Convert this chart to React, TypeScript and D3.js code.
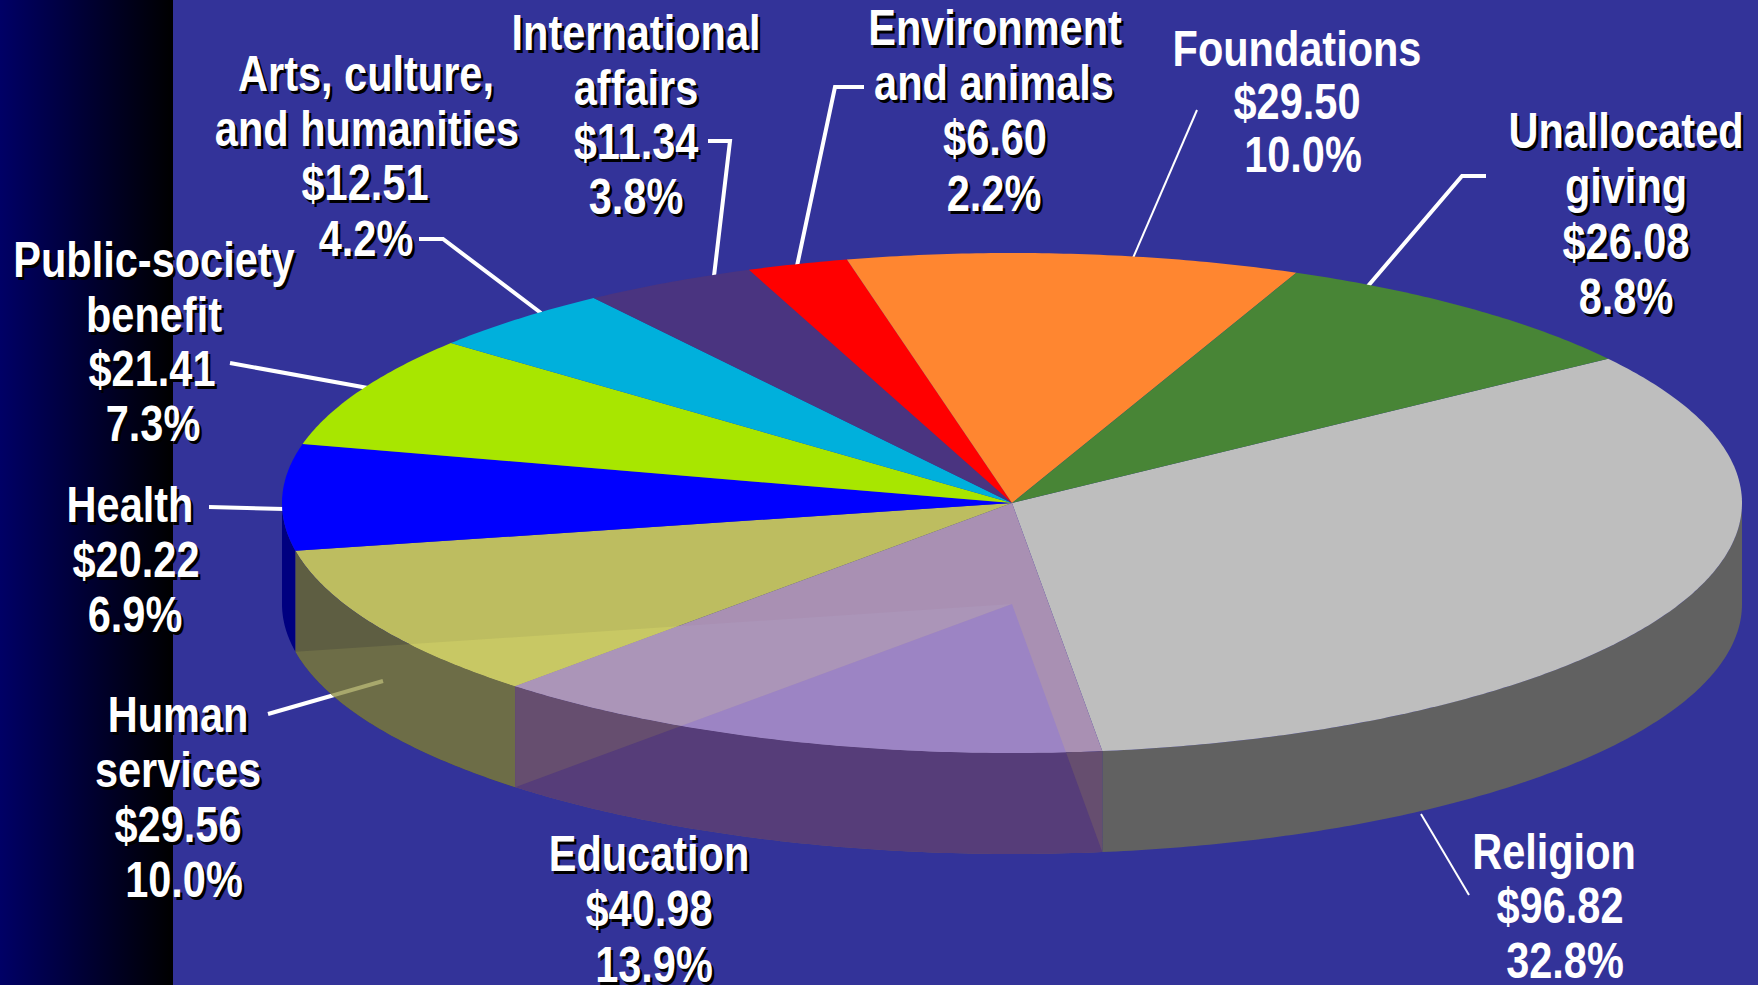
import React from "react";
import * as d3 from "d3";

// ---- data ----
const categories = ["Religion","Education","Human services","Health","Public-society benefit","Arts, culture, and humanities","International affairs","Environment and animals","Foundations","Unallocated giving"];
const amounts = [96.82,40.98,29.56,20.22,21.41,12.51,11.34,6.60,29.50,26.08];
const percents = ["32.8%","13.9%","10.0%","6.9%","7.3%","4.2%","3.8%","2.2%","10.0%","8.8%"];
const nameLines = [["Religion"],["Education"],["Human","services"],["Health"],["Public-society","benefit"],["Arts, culture,","and humanities"],["International","affairs"],["Environment","and animals"],["Foundations"],["Unallocated","giving"]];
const topColors = ["#BEBEBE","#A990B3","#BDBD60","#0000FF","#A8E600","#00B0DC","#4A3480","#FF0000","#FF8630","#488536"];
const wallColors: Record<string,string> = { "Religion":"#616161", "Health":"#000080" };
const shadowed = [false,true,true,true,true,true,true,true,false,true];

// label layout: [centre x of each line], [baseline of each line]
const labelX = [[1554,1560,1565],[649,649,654],[178,178,178,184],[130,136,135],[154,154,152,153],[366,367,365,366],[636,636,636,636],[995,994,995,994],[1297,1297,1303],[1626,1626,1626,1626]];
const labelY = [[869,923,978],[871,926,982],[732,787,842,897],[522,577,632],[277,332,386,441],[91,146,200,256],[50,105,159,214],[45,100,155,211],[66,119,172],[148,203,259,314]];
// leader lines
const leaders: {pts:[number,number][],w:number}[] = [
  {pts:[[1421,814],[1469,895]],w:2},
  {pts:[[268,714],[383,681]],w:4},
  {pts:[[209,507],[284,509]],w:4},
  {pts:[[230,363],[368,388]],w:4},
  {pts:[[419,239],[443,239],[541,313]],w:4},
  {pts:[[708,141],[730,141],[714,276]],w:4},
  {pts:[[864,87],[835,87],[797,266]],w:4},
  {pts:[[1197,110],[1133,258]],w:2},
  {pts:[[1486,176],[1462,176],[1368,286]],w:4},
];

const W = 1758, H = 985;
const CX = 1012, CY = 503, RX = 730, RY = 250, DEPTH = 101;
const START = (54.75 * Math.PI) / 180;

const px = (a: number) => CX + RX * Math.sin(a);
const py = (a: number, dy = 0) => CY + dy - RY * Math.cos(a);

const arcs = d3.pie<number>().value(d => d).sort(null).startAngle(START).endAngle(START + 2 * Math.PI)(amounts);

const samples = (a0: number, a1: number) => {
  const n = Math.max(2, Math.ceil((a1 - a0) / 0.01));
  return d3.range(n + 1).map(i => a0 + ((a1 - a0) * i) / n);
};
const sector = (a0: number, a1: number, dy = 0) =>
  d3.line<[number,number]>()(
    [[CX, CY + dy] as [number,number]].concat(samples(a0, a1).map(a => [px(a), py(a, dy)] as [number,number]))
  ) + "Z";
const wall = (a0: number, a1: number) => {
  const lo = Math.max(a0, Math.PI / 2), hi = Math.min(a1, (3 * Math.PI) / 2);
  if (hi <= lo) return "";
  return d3.area<number>().x(px).y0(a => py(a)).y1(a => py(a, DEPTH))(samples(lo, hi)) + "Z";
};
const leaderPath = d3.line<[number,number]>();

const idx = (n: string) => categories.indexOf(n);
const edu = arcs[idx("Education")], hum = arcs[idx("Human services")];
const topEdu = sector(edu.startAngle, edu.endAngle);
const topHum = sector(hum.startAngle, hum.endAngle);
const botEdu = sector(edu.startAngle, edu.endAngle, DEPTH);
const botHum = sector(hum.startAngle, hum.endAngle, DEPTH);
const wallEdu = wall(edu.startAngle, edu.endAngle);
const wallHum = wall(hum.startAngle, hum.endAngle);

const FONT = "'Liberation Sans', Arial, sans-serif";

function Label({ i }: { i: number }) {
  const lines = [...nameLines[i], "$" + amounts[i].toFixed(2), percents[i]];
  return (
    <g>
      {lines.map((t, k) => {
        const common = { textAnchor: "middle" as const, fontFamily: FONT, fontWeight: 700, fontSize: 50 };
        return (
          <g key={k}>
            {shadowed[i] && (
              <text {...common} fill="#000" transform={`translate(${labelX[i][k] + 2.5},${labelY[i][k] + 2.5}) scale(0.83,1)`}>{t}</text>
            )}
            <text {...common} fill="#fff" transform={`translate(${labelX[i][k]},${labelY[i][k]}) scale(0.83,1)`}>{t}</text>
          </g>
        );
      })}
    </g>
  );
}

export default function App() {
  return (
    <svg width={W} height={H} viewBox={`0 0 ${W} ${H}`} style={{ position: "absolute", left: 0, top: 0, display: "block" }}>
      <defs>
        <linearGradient id="band" x1="0" x2="1" y1="0" y2="0">
          <stop offset="0" stopColor="#000066" />
          <stop offset="1" stopColor="#000000" />
        </linearGradient>
        <clipPath id="c-top-edu"><path d={topEdu} /></clipPath>
        <clipPath id="c-top-hum"><path d={topHum} /></clipPath>
        <clipPath id="c-wall-edu"><path d={wallEdu} /></clipPath>
        <clipPath id="c-wall-hum"><path d={wallHum} /></clipPath>
      </defs>
      <rect width={W} height={H} fill="#333399" />
      <rect width={173} height={H} fill="url(#band)" />

      {leaders.map((l, i) => (
        <path key={i} d={leaderPath(l.pts) as string} fill="none" stroke="#fff" strokeWidth={l.w} />
      ))}

      {arcs.map((a, i) => wallColors[categories[i]] ? (
        <path key={i} d={wall(a.startAngle, a.endAngle)} fill={wallColors[categories[i]]} />
      ) : null)}

      {arcs.map((a, i) => (
        <path key={i} d={sector(a.startAngle, a.endAngle)} fill={topColors[i]} />
      ))}

      {/* see-through slices: the far face shows through the near ones */}
      <path d={wallHum} fill="#5E5E42" />
      <g clipPath="url(#c-wall-hum)">
        <path d={botHum} fill="#6D6D47" />
        <path d={leaderPath(leaders[1].pts) as string} fill="none" stroke="#A8A86C" strokeWidth={leaders[1].w} />
      </g>
      <path d={wallEdu} fill="#664E6F" />
      <g clipPath="url(#c-wall-edu)">
        <path d={botEdu} fill="#563D79" />
      </g>
      <g clipPath="url(#c-top-hum)">
        <path d={botHum} fill="#C8C864" />
      </g>
      <g clipPath="url(#c-top-edu)">
        <path d={botHum} fill="#AB95B8" />
        <path d={botEdu} fill="#9C84C4" />
      </g>

      {categories.map((_, i) => <Label key={i} i={i} />)}
    </svg>
  );
}
